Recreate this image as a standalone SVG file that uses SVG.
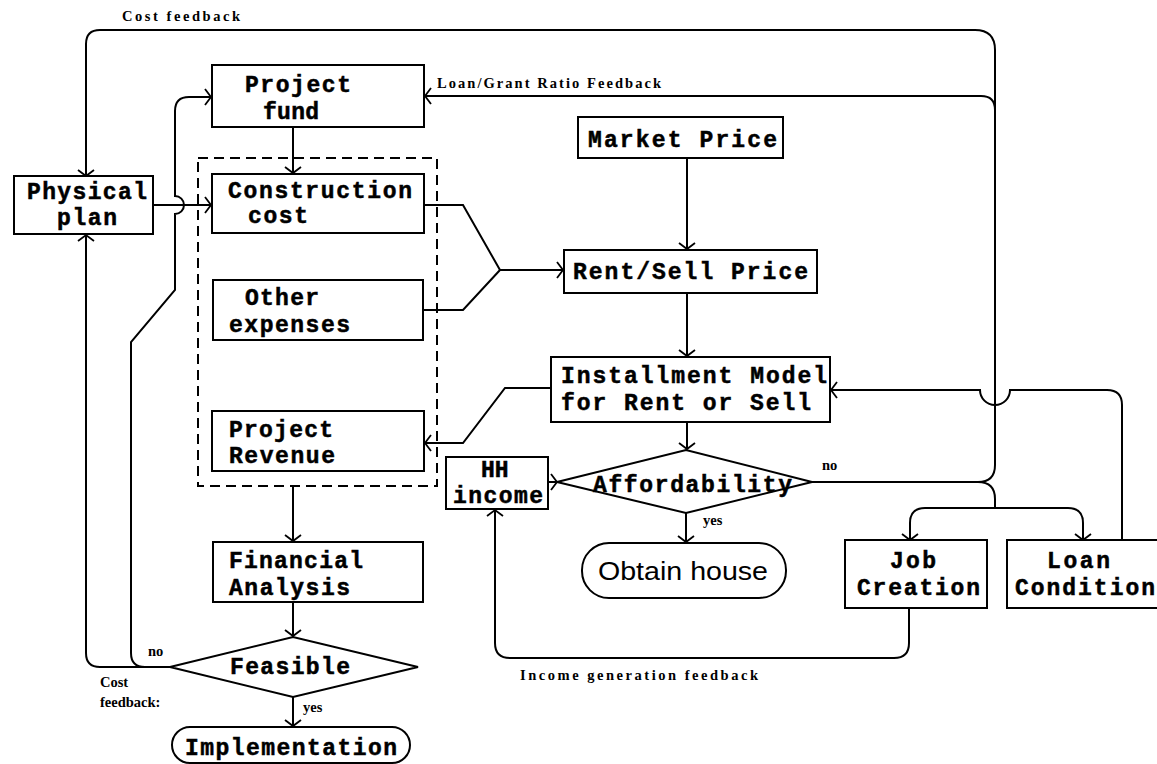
<svg xmlns="http://www.w3.org/2000/svg" width="1157" height="764" viewBox="0 0 1157 764">
  <style>
    .box { fill: #fff; stroke: #000; stroke-width: 2; }
    .dash { fill: none; stroke: #000; stroke-width: 2; stroke-dasharray: 10 6; }
    .line { fill: none; stroke: #000; stroke-width: 2; }
    .arrow { fill: none; stroke: #000; stroke-width: 2; marker-end: url(#head); }
    .lbl { font-family: "Liberation Mono", "DejaVu Sans Mono", monospace; font-weight: bold; font-size: 23px; fill: #000; stroke: #000; stroke-width: 0.5; }
    .note { font-family: "Liberation Serif", "DejaVu Serif", serif; font-weight: bold; font-size: 14.5px; fill: #000; }
    .soft { font-family: "Liberation Sans", "DejaVu Sans", sans-serif; font-size: 25px; fill: #000; }
  </style>
  <defs>
    <marker id="head" markerUnits="userSpaceOnUse" markerWidth="20" markerHeight="20" viewBox="-10 -10 20 20" refX="0" refY="0" orient="auto">
      <path d="M-6,-8 L0,0 L-6,8" fill="none" stroke="#000" stroke-width="1.8"/>
    </marker>
  </defs>
  <rect width="1157" height="764" fill="#fff"/>

  <!-- connectors -->
  <g id="connectors">
    <!-- cost feedback loop along the top, down into the physical plan -->
    <path class="arrow" d="M812,482 H978 Q995,482 995,465 V50 Q995,30 975,30 H100 Q86,30 86,44 V176"/>
    <!-- loan/grant ratio feedback into the project fund -->
    <path class="arrow" d="M995,110 Q995,96 981,96 H425"/>
    <!-- branch down to job creation and loan condition -->
    <path class="line" d="M978,482 Q995,482 995,499 V508"/>
    <path class="arrow" d="M995,508 H925 Q910,508 910,523 V540"/>
    <path class="arrow" d="M995,508 H1068 Q1083,508 1083,523 V540"/>
    <!-- loan condition back into the installment model, hopping the feedback line -->
    <path class="arrow" d="M1122,540 V405 Q1122,390 1107,390 H1010 A15,15 0 0 1 980,390 H831"/>
    <!-- income generation feedback -->
    <path class="arrow" d="M909,608 V643 Q909,658 894,658 H510 Q495,658 495,643 V510"/>
    <!-- feasible "no" back to the physical plan -->
    <path class="arrow" d="M170,667 H100 Q86,667 86,653 V235"/>
    <!-- feasible "no" back to the project fund, hopping the plan line -->
    <path class="arrow" d="M170,667 H145 Q131,667 131,653 V342 L175,290 V214 A9,9 0 0 0 175,196 V111 Q175,97 189,97 H211"/>
    <!-- physical plan to construction cost -->
    <path class="arrow" d="M153,205 H211"/>
    <!-- project fund to construction cost -->
    <path class="arrow" d="M293,127 V173"/>
    <!-- cost items into rent/sell price -->
    <path class="line" d="M424,205 H463 L500,270"/>
    <path class="line" d="M424,310 H463 L500,270"/>
    <path class="arrow" d="M500,270 H563"/>
    <!-- price chain -->
    <path class="arrow" d="M687,158 V249"/>
    <path class="arrow" d="M687,293 V356"/>
    <path class="arrow" d="M687,422 V449"/>
    <!-- installment model to project revenue -->
    <path class="arrow" d="M551,388 H505 L463,443 H425"/>
    <!-- household income into affordability -->
    <path class="arrow" d="M548,482 H557"/>
    <!-- affordability yes -->
    <path class="arrow" d="M686,513 V542"/>
    <!-- financial chain -->
    <path class="arrow" d="M293,486 V541"/>
    <path class="arrow" d="M293,602 V636"/>
    <path class="arrow" d="M293,697 V726"/>
  </g>

  <!-- connector labels -->
  <g id="labels">
    <text class="note" x="122" y="21" textLength="118" lengthAdjust="spacing">Cost feedback</text>
    <text class="note" x="437" y="88" textLength="224" lengthAdjust="spacing">Loan/Grant Ratio Feedback</text>
    <text class="note" x="822" y="470">no</text>
    <text class="note" x="703" y="525">yes</text>
    <text class="note" x="148" y="656">no</text>
    <text class="note" x="303" y="712">yes</text>
    <text class="note" x="100" y="687">Cost</text>
    <text class="note" x="100" y="707">feedback:</text>
    <text class="note" x="520" y="680" textLength="238" lengthAdjust="spacing">Income generation feedback</text>
  </g>

  <!-- cost group outline -->
  <rect id="cost-group" class="dash" x="198" y="158" width="239" height="328"/>

  <g id="physical-plan">
    <rect class="box" x="14" y="176" width="139" height="58"/>
    <text class="lbl" x="27" y="199" textLength="120" lengthAdjust="spacing">Physical</text>
    <text class="lbl" x="57" y="225" textLength="60" lengthAdjust="spacing">plan</text>
  </g>

  <g id="project-fund">
    <rect class="box" x="212" y="65" width="212" height="62"/>
    <text class="lbl" x="245" y="92" textLength="106" lengthAdjust="spacing">Project</text>
    <text class="lbl" x="263" y="119" textLength="56" lengthAdjust="spacing">fund</text>
  </g>

  <g id="construction-cost">
    <rect class="box" x="212" y="174" width="212" height="59"/>
    <text class="lbl" x="228" y="198" textLength="184" lengthAdjust="spacing">Construction</text>
    <text class="lbl" x="248" y="223" textLength="60" lengthAdjust="spacing">cost</text>
  </g>

  <g id="other-expenses">
    <rect class="box" x="213" y="280" width="210" height="60"/>
    <text class="lbl" x="245" y="305" textLength="74" lengthAdjust="spacing">Other</text>
    <text class="lbl" x="229" y="332" textLength="121" lengthAdjust="spacing">expenses</text>
  </g>

  <g id="project-revenue">
    <rect class="box" x="212" y="411" width="212" height="60"/>
    <text class="lbl" x="229" y="437" textLength="104" lengthAdjust="spacing">Project</text>
    <text class="lbl" x="229" y="463" textLength="106" lengthAdjust="spacing">Revenue</text>
  </g>

  <g id="financial-analysis">
    <rect class="box" x="213" y="542" width="210" height="60"/>
    <text class="lbl" x="229" y="568" textLength="134" lengthAdjust="spacing">Financial</text>
    <text class="lbl" x="229" y="595" textLength="121" lengthAdjust="spacing">Analysis</text>
  </g>

  <g id="feasible">
    <polygon class="box" points="170,667 293,637 418,667 293,697"/>
    <text class="lbl" x="230" y="674" textLength="120" lengthAdjust="spacing">Feasible</text>
  </g>

  <g id="implementation">
    <rect class="box" x="172" y="727" width="238" height="36" rx="18"/>
    <text class="lbl" x="185" y="755" textLength="212" lengthAdjust="spacing">Implementation</text>
  </g>

  <g id="market-price">
    <rect class="box" x="578" y="117" width="205" height="41"/>
    <text class="lbl" x="588" y="147" textLength="189" lengthAdjust="spacing">Market Price</text>
  </g>

  <g id="rent-sell-price">
    <rect class="box" x="564" y="250" width="253" height="43"/>
    <text class="lbl" x="573" y="279" textLength="235" lengthAdjust="spacing">Rent/Sell Price</text>
  </g>

  <g id="installment-model">
    <rect class="box" x="551" y="357" width="279" height="65"/>
    <text class="lbl" x="561" y="383" textLength="266" lengthAdjust="spacing">Installment Model</text>
    <text class="lbl" x="561" y="410" textLength="250" lengthAdjust="spacing">for Rent or Sell</text>
  </g>

  <g id="affordability">
    <polygon class="box" points="557,482 686,450 812,482 686,513"/>
    <text class="lbl" x="593" y="492" textLength="199" lengthAdjust="spacing">Affordability</text>
  </g>

  <g id="hh-income">
    <rect class="box" x="446" y="457" width="102" height="52"/>
    <text class="lbl" x="481" y="477">HH</text>
    <text class="lbl" x="453" y="503" textLength="90" lengthAdjust="spacing">income</text>
  </g>

  <g id="obtain-house">
    <rect class="box" x="582" y="543" width="204" height="55" rx="27"/>
    <text class="soft" x="598" y="580" textLength="170" lengthAdjust="spacingAndGlyphs">Obtain house</text>
  </g>

  <g id="job-creation">
    <rect class="box" x="845" y="540" width="142" height="68"/>
    <text class="lbl" x="890" y="568" textLength="46" lengthAdjust="spacing">Job</text>
    <text class="lbl" x="857" y="595" textLength="123" lengthAdjust="spacing">Creation</text>
  </g>

  <g id="loan-condition">
    <rect class="box" x="1007" y="540" width="160" height="68"/>
    <text class="lbl" x="1047" y="568" textLength="63" lengthAdjust="spacing">Loan</text>
    <text class="lbl" x="1015" y="595" textLength="140" lengthAdjust="spacing">Condition</text>
  </g>
</svg>
